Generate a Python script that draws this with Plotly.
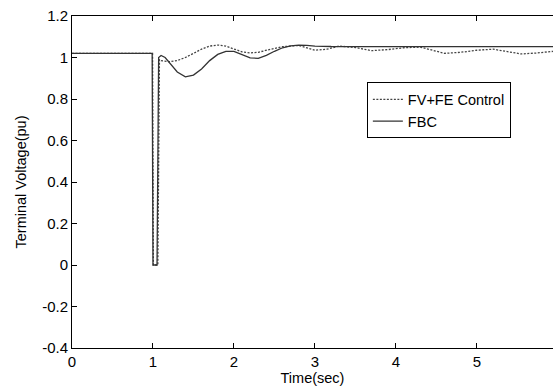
import plotly.graph_objects as go

# Time (sec) and terminal voltage (pu)
t_fbc = [0, 0.99, 1.0, 1.05, 1.07, 1.1, 1.15, 1.2, 1.3, 1.4, 1.5, 1.6, 1.7, 1.8, 1.9, 2.0, 2.1,
         2.2, 2.3, 2.4, 2.5, 2.6, 2.7, 2.8, 2.9, 3.0, 3.2, 3.5, 4.0, 4.5, 5.0, 5.5, 6.0]
v_fbc = [1.02, 1.02, 0.0, 0.0, 1.0, 1.01, 1.0, 0.975, 0.93, 0.907, 0.915, 0.945, 0.985, 1.015, 1.03,
         1.03, 1.015, 0.998, 0.996, 1.01, 1.03, 1.047, 1.056, 1.06, 1.058, 1.055, 1.053, 1.052,
         1.052, 1.052, 1.052, 1.052, 1.052]

t_fvfe = [0, 0.995, 1.005, 1.06, 1.08, 1.1, 1.2, 1.3, 1.4, 1.5, 1.6, 1.7, 1.8, 1.9, 2.0, 2.1, 2.2,
          2.3, 2.4, 2.5, 2.6, 2.8, 3.0, 3.15, 3.3, 3.5, 3.7, 3.9, 4.1, 4.3, 4.45, 4.6, 4.8, 5.0,
          5.2, 5.35, 5.55, 5.75, 6.0]
v_fvfe = [1.02, 1.02, 0.0, 0.0, 0.99, 0.985, 0.98, 0.985, 1.0, 1.02, 1.04, 1.055, 1.06, 1.055,
          1.04, 1.027, 1.022, 1.025, 1.035, 1.045, 1.052, 1.058, 1.035, 1.04, 1.055, 1.048,
          1.033, 1.038, 1.047, 1.05, 1.035, 1.02, 1.025, 1.035, 1.04, 1.03, 1.017, 1.022, 1.032]

y_ticks = [-0.4, -0.2, 0, 0.2, 0.4, 0.6, 0.8, 1, 1.2]
y_ticktext = ["-0.4", "-0.2", "0", "0.2", "0.4", "0.6", "0.8", "1", "1.2"]
x_ticks = [0, 1, 2, 3, 4, 5, 6]

fig = go.Figure()
fig.add_trace(go.Scatter(x=t_fvfe, y=v_fvfe, mode="lines", name="FV+FE Control",
                         line=dict(color="#444444", width=1.3, dash="2px,1.5px")))
fig.add_trace(go.Scatter(x=t_fbc, y=v_fbc, mode="lines", name="FBC",
                         line=dict(color="#333333", width=1.3)))

font = dict(family="Liberation Sans, Arial, sans-serif", size=15, color="black")
legend_font = dict(family="Liberation Sans, Arial, sans-serif", size=14.5, color="black")
title_font = dict(family="Liberation Sans, Arial, sans-serif", size=14.5, color="black")
fig.update_layout(
    width=553, height=390,
    margin=dict(l=72, r=0, t=16, b=42),
    paper_bgcolor="white", plot_bgcolor="white",
    font=font,
    showlegend=True,
    legend=dict(x=0.613, y=0.8, xanchor="left", yanchor="top",
                bordercolor="black", borderwidth=1, bgcolor="white",
                font=legend_font, tracegroupgap=0),
)
fig.update_xaxes(range=[0, 5.94], tickvals=x_ticks, ticks="inside", ticklen=5,
                 tickcolor="black", showline=True, linecolor="black", linewidth=1,
                 mirror="ticks", showgrid=False, zeroline=False, tickfont=font,
                 title=dict(text="Time(sec)", standoff=0, font=title_font))
fig.update_yaxes(range=[-0.4, 1.2], tickvals=y_ticks, ticktext=y_ticktext, ticks="inside",
                 ticklen=5, tickcolor="black", showline=True, linecolor="black", linewidth=1,
                 mirror=False, showgrid=False, zeroline=False, tickfont=font,
                 title=dict(text="Terminal Voltage(pu)", standoff=12, font=title_font))

fig.write_html("out.html")
